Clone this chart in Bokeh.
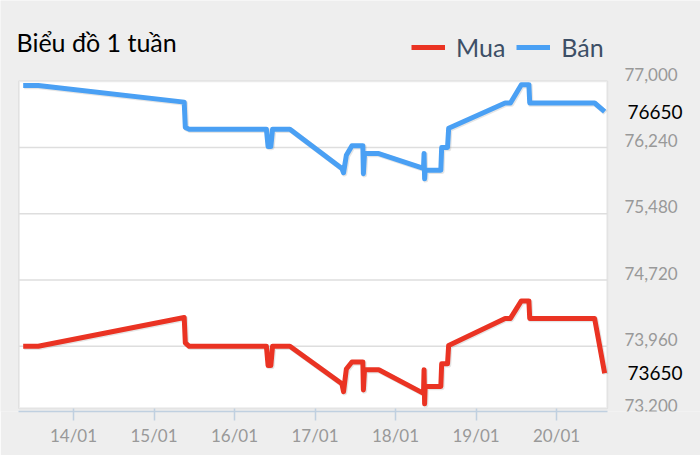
import pandas as pd
from bokeh.plotting import figure
from bokeh.models import (Range1d, DatetimeTickFormatter, DaysTicker, BoxAnnotation,
                          ColumnDataSource, Legend, LegendItem, Label)
from bokeh.embed import file_html
from bokeh.resources import INLINE

# Du lieu doc tu bieu do (gia Ban / Mua theo thoi gian)
thoi_gian = [
    "2025-01-13 09:00", "2025-01-13 13:30",
    "2025-01-15 09:00", "2025-01-15 09:20", "2025-01-15 10:30",
    "2025-01-16 09:30", "2025-01-16 10:00", "2025-01-16 10:50", "2025-01-16 11:20",
    "2025-01-16 16:30",
    "2025-01-17 08:00", "2025-01-17 08:30", "2025-01-17 09:20", "2025-01-17 11:00",
    "2025-01-17 14:15", "2025-01-17 14:25", "2025-01-17 14:45", "2025-01-17 19:00",
    "2025-01-18 08:20", "2025-01-18 08:30", "2025-01-18 08:40", "2025-01-18 08:50",
    "2025-01-18 13:30", "2025-01-18 13:45", "2025-01-18 15:30", "2025-01-18 15:50",
    "2025-01-19 08:40", "2025-01-19 10:15", "2025-01-19 13:30", "2025-01-19 15:45",
    "2025-01-19 16:00",
    "2025-01-20 11:20", "2025-01-20 14:20",
]
ban = [
    76950, 76950,
    76760, 76470, 76450,
    76450, 76250, 76250, 76450,
    76450,
    76000, 75950, 76150, 76260,
    76260, 75940, 76170, 76170,
    76000, 76170, 75880, 75980,
    75980, 76240, 76240, 76460,
    76750, 76750, 76960, 76960,
    76750,
    76750, 76650,
]
mua = [
    73960, 73960,
    74290, 74000, 73960,
    73960, 73740, 73740, 73960,
    73960,
    73530, 73440, 73700, 73780,
    73780, 73460, 73690, 73690,
    73420, 73690, 73300, 73500,
    73500, 73760, 73760, 73970,
    74280, 74280, 74480, 74480,
    74280,
    74280, 73650,
]
y_ticks = [73200, 73960, 74720, 75480, 76240, 77000]

FONT = "Lato"
RED = "#ea3323"
BLUE = "#4aa0f4"
GREY_BG = "#eeeeee"

t = pd.to_datetime(thoi_gian)

# vung ve (nen trang) va kich thuoc khung tinh bang pixel
x0, x1 = pd.Timestamp("2025-01-13 07:45"), pd.Timestamp("2025-01-20 15:06")
y0, y1 = 73250, 77000
W, H, H_AXIS = 700, 455, 44
FRAME_H = H - H_AXIS
box_l, box_r, box_t, box_b = 18.5, 606.7, 80.7, 407.7

sec_per_px = (x1 - x0) / (box_r - box_l)
val_per_px = (y1 - y0) / (box_b - box_t)
fx0 = x0 - sec_per_px * box_l
fx1 = x1 + sec_per_px * (W - box_r)
fy0 = y0 - val_per_px * (FRAME_H - box_b)
fy1 = y1 + val_per_px * box_t

p = figure(width=W, height=H, x_axis_type="datetime", y_axis_location=None,
           x_range=Range1d(fx0, fx1), y_range=Range1d(fy0, fy1),
           output_backend="svg", toolbar_location=None,
           min_border_left=0, min_border_right=0, min_border_top=0, min_border_bottom=H_AXIS)
p.background_fill_color = GREY_BG
p.border_fill_color = GREY_BG
p.outline_line_color = None
p.grid.visible = False

# nen trang cua vung ve
p.add_layout(BoxAnnotation(left=x0, right=x1, bottom=y0, top=y1, level="underlay",
                           fill_color="white", fill_alpha=1,
                           line_color="#c4c4c4", line_width=2))

# luoi ngang
luoi = [v for v in y_ticks if y0 < v < y1]
p.segment(x0=[x0] * len(luoi), x1=[x1] * len(luoi), y0=luoi, y1=luoi,
          line_color="#dedede", line_width=1.5)

# bong mo cua duong (lech 1px xuong / sang phai)
p.extra_y_ranges = {"bong": Range1d(fy0 + val_per_px, fy1 + val_per_px)}
p.extra_x_ranges = {"bong": Range1d(fx0 - sec_per_px, fx1 - sec_per_px)}

src = ColumnDataSource(dict(t=t, ban=ban, mua=mua))
for col in ["mua", "ban"]:
    p.line("t", col, source=src, x_range_name="bong", y_range_name="bong",
           line_color="black", line_alpha=0.1, line_width=5.5, line_join="round")
r_mua = p.line("t", "mua", source=src, line_color=RED, line_width=5, line_join="round")
r_ban = p.line("t", "ban", source=src, line_color=BLUE, line_width=5, line_join="round")

# truc x
p.xaxis.bounds = (x0, x1)
p.xaxis.ticker = DaysTicker(days=list(range(1, 32)))
p.xaxis.formatter = DatetimeTickFormatter(days="%d/%m")
p.xaxis.axis_line_color = "#c0d0e0"
p.xaxis.axis_line_width = 1.5
p.xaxis.major_tick_line_color = "#c0d0e0"
p.xaxis.major_tick_line_width = 1.5
p.xaxis.minor_tick_line_color = None
p.xaxis.major_tick_out = 9
p.xaxis.major_tick_in = 3
p.xaxis.major_label_standoff = 4
p.xaxis.major_label_text_font = FONT
p.xaxis.major_label_text_font_size = "17px"
p.xaxis.major_label_text_color = "#999999"

# nhan truc y ben phai
for v in y_ticks:
    p.add_layout(Label(x=624, y=v, x_units="screen", y_units="data", y_offset=7,
                       text=f"{v:,}", text_align="left", text_baseline="middle",
                       text_font=FONT, text_font_size="17px", text_color="#999999"))
# gia cuoi cung
for val in [ban[-1], mua[-1]]:
    p.add_layout(Label(x=627, y=val, x_units="screen", y_units="data",
                       text=str(val), text_align="left", text_baseline="middle",
                       text_font=FONT, text_font_size="19px", text_color="black"))

# tieu de
p.add_layout(Label(x=16, y=FRAME_H - 41, x_units="screen", y_units="screen",
                   text="Biểu đồ 1 tuần", text_align="left", text_baseline="middle",
                   text_font=FONT, text_font_size="25px", text_color="black"))

legend = Legend(items=[LegendItem(label="Mua", renderers=[r_mua]),
                       LegendItem(label="Bán", renderers=[r_ban])],
                orientation="horizontal", location=(411, FRAME_H - 62),
                padding=0, margin=0, spacing=11, label_standoff=11,
                glyph_width=34, glyph_height=28,
                label_text_font=FONT, label_text_font_size="25px", label_text_color="#3d4f66",
                background_fill_alpha=0, border_line_alpha=0)
p.add_layout(legend)

open("out.html", "w").write(file_html(p, INLINE))
